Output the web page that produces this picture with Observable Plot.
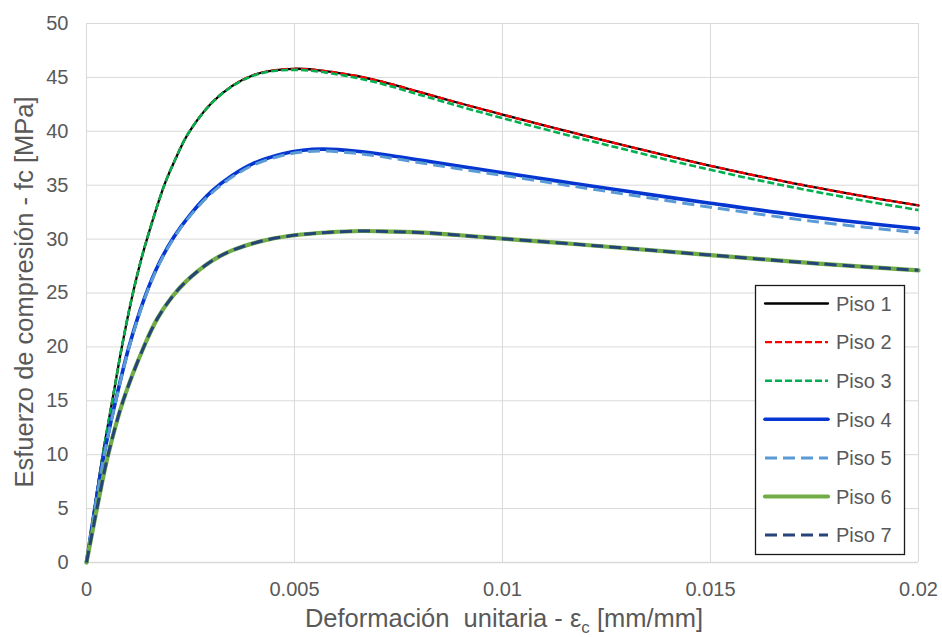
<!DOCTYPE html>
<html><head><meta charset="utf-8">
<script src="https://cdn.jsdelivr.net/npm/d3@7"></script>
<script src="https://cdn.jsdelivr.net/npm/@observablehq/plot@0.6"></script>
<style>
html,body{margin:0;padding:0;background:#fff;}
#chart{width:942px;height:637px;}
</style></head><body><div id="chart"></div>
<script>
// Strain (mm/mm) sample positions for each group of curves
const strainA = [0, 0.0002, 0.0004, 0.00062, 0.00085, 0.00107, 0.0013, 0.0015, 0.00187, 0.0021, 0.00243, 0.0030, 0.0035, 0.0040, 0.0045, 0.0050, 0.0055, 0.0060, 0.0065, 0.0070, 0.0075, 0.0080, 0.0090, 0.0100, 0.0110, 0.0120, 0.0130, 0.0140, 0.0150, 0.0160, 0.0170, 0.0180, 0.0190, 0.0200];
const piso1 = [0, 5.2, 10.2, 15, 20, 24.2, 27.9, 30.6, 35, 37.1, 39.7, 42.6, 44.2, 45.2, 45.65, 45.8, 45.7, 45.45, 45.13, 44.7, 44.2, 43.65, 42.58, 41.55, 40.55, 39.57, 38.62, 37.69, 36.8, 35.96, 35.18, 34.45, 33.76, 33.12];
const piso2 = [0, 5.2, 10.2, 15, 20, 24.2, 27.9, 30.6, 35, 37.1, 39.7, 42.6, 44.2, 45.2, 45.65, 45.8, 45.7, 45.45, 45.13, 44.7, 44.2, 43.65, 42.58, 41.55, 40.55, 39.57, 38.62, 37.69, 36.8, 35.96, 35.18, 34.45, 33.76, 33.12];
const piso3 = [0, 5.2, 10.2, 15, 20, 24.2, 27.9, 30.6, 35, 37.1, 39.7, 42.58, 44.17, 45.16, 45.6, 45.7, 45.58, 45.3, 44.95, 44.5, 43.97, 43.4, 42.28, 41.22, 40.21, 39.22, 38.26, 37.32, 36.43, 35.58, 34.79, 34.05, 33.35, 32.69];

const strainB = [0, 0.0002, 0.00042, 0.0007, 0.00102, 0.0014, 0.00175, 0.0021, 0.0025, 0.0030, 0.0035, 0.0040, 0.0047, 0.0052, 0.0057, 0.0065, 0.0073, 0.0081, 0.0089, 0.0100, 0.0113, 0.0125, 0.0150, 0.0176, 0.0200];
const piso4 = [0, 5, 10, 15, 20, 24.6, 27.8, 30.2, 32.3, 34.4, 35.9, 37.0, 37.9, 38.25, 38.35, 38.15, 37.75, 37.28, 36.8, 36.15, 35.4, 34.72, 33.33, 31.98, 30.97];
const piso5 = [0, 4.95, 9.9, 14.9, 19.9, 24.5, 27.7, 30.1, 32.2, 34.25, 35.75, 36.85, 37.75, 38.08, 38.17, 37.95, 37.53, 37.04, 36.55, 35.92, 35.14, 34.43, 32.96, 31.58, 30.59];

const strainC = [0, 0.00026, 0.00052, 0.00088, 0.0014, 0.0017, 0.00205, 0.0024, 0.0030, 0.0035, 0.0043, 0.0051, 0.0058, 0.0066, 0.0073, 0.0081, 0.0089, 0.0100, 0.0113, 0.0126, 0.0150, 0.0176, 0.0200];
const piso6 = [0, 5.2, 10, 15, 20.2, 22.6, 24.6, 26.1, 27.95, 28.95, 29.9, 30.4, 30.62, 30.75, 30.7, 30.6, 30.38, 30.04, 29.67, 29.27, 28.52, 27.72, 27.1];
const piso7 = [0, 5.2, 10, 15, 20.2, 22.6, 24.6, 26.1, 27.95, 28.95, 29.9, 30.4, 30.62, 30.75, 30.7, 30.6, 30.38, 30.04, 29.67, 29.27, 28.52, 27.72, 27.1];

const seriesNames = ["Piso 1", "Piso 2", "Piso 3", "Piso 4", "Piso 5", "Piso 6", "Piso 7"];
const xTicks = [0, 0.005, 0.01, 0.015, 0.02];
const xTickLabels = ["0", "0.005", "0.01", "0.015", "0.02"];
const yTicks = [0, 5, 10, 15, 20, 25, 30, 35, 40, 45, 50];
const xTitleMain = "Deformación  unitaria - ε";
const xTitleSub = "c";
const xTitleEnd = " [mm/mm]";
const yTitle = "Esfuerzo de compresión - fc [MPa]";

const styles = [
  {stroke: "#000000", width: 2.3, dash: null},
  {stroke: "#ff0000", width: 2.3, dash: "7,3"},
  {stroke: "#00b050", width: 2.6, dash: "7,3"},
  {stroke: "#0536d0", width: 3.6, dash: null},
  {stroke: "#5b9bd5", width: 3.0, dash: "12,6"},
  {stroke: "#70ad47", width: 4.2, dash: null},
  {stroke: "#264478", width: 3.0, dash: "12,6"}
];

function rows(strain, stress, name) { return strain.map((e, i) => ({e, f: stress[i], name})); }
const data = [
  rows(strainA, piso1, seriesNames[0]),
  rows(strainA, piso2, seriesNames[1]),
  rows(strainA, piso3, seriesNames[2]),
  rows(strainB, piso4, seriesNames[3]),
  rows(strainB, piso5, seriesNames[4]),
  rows(strainC, piso6, seriesNames[5]),
  rows(strainC, piso7, seriesNames[6])
];

const plot = Plot.plot({
  width: 942, height: 637,
  marginLeft: 86, marginRight: 24, marginTop: 23, marginBottom: 75,
  style: {fontFamily: "'Liberation Sans', Arial, sans-serif", fontSize: "20px", color: "#595959", background: "#ffffff"},
  x: {domain: [0, 0.02], ticks: xTicks, tickFormat: (d) => xTickLabels[xTicks.indexOf(d)], tickSize: 0, tickPadding: 19, label: null},
  y: {domain: [0, 50], ticks: yTicks, tickSize: 0, tickPadding: 18, label: null},
  marks: [
    Plot.gridY(yTicks, {stroke: "#d9d9d9", strokeOpacity: 1, strokeWidth: 1}),
    Plot.gridX(xTicks, {stroke: "#d9d9d9", strokeOpacity: 1, strokeWidth: 1}),
    Plot.ruleY([0], {stroke: "#d9d9d9", strokeWidth: 1.5}),
    ...data.map((d, i) => Plot.line(d, {
      x: "e", y: "f",
      stroke: styles[i].stroke,
      strokeWidth: styles[i].width,
      strokeDasharray: styles[i].dash,
      strokeLinecap: styles[i].dash ? "butt" : "round",
      curve: "catmull-rom"
    }))
  ]
});
document.getElementById("chart").appendChild(plot);

const svg = d3.select(plot);
// axis titles
svg.append("text")
  .attr("transform", "translate(24,292) rotate(-90)")
  .attr("text-anchor", "middle").attr("dy", "0.35em")
  .attr("fill", "#595959").attr("font-size", 25.5)
  .text(yTitle);
const xt = svg.append("text")
  .attr("x", 504).attr("y", 627)
  .attr("text-anchor", "middle")
  .attr("fill", "#595959").attr("font-size", 25.5)
  .attr("xml:space", "preserve").style("white-space", "pre");
xt.append("tspan").text(xTitleMain);
xt.append("tspan").attr("font-size", 17).attr("dy", 6).text(xTitleSub);
xt.append("tspan").attr("dy", -6).text(xTitleEnd);

// legend
const lg = svg.append("g").attr("text-anchor", "start");
lg.append("rect").attr("x", 755.5).attr("y", 285.5).attr("width", 149).attr("height", 269)
  .attr("fill", "#ffffff").attr("stroke", "#1a1a1a").attr("stroke-width", 1.3);
seriesNames.forEach((n, i) => {
  const cy = 303.5 + i * 38.6;
  lg.append("line").attr("x1", 765).attr("x2", 828).attr("y1", cy).attr("y2", cy)
    .attr("stroke", styles[i].stroke).attr("stroke-width", styles[i].width)
    .attr("stroke-dasharray", styles[i].dash || null)
    .attr("stroke-linecap", styles[i].dash ? "butt" : "round");
  lg.append("text").attr("x", 836).attr("y", cy).attr("dy", "0.36em")
    .attr("text-anchor", "start")
    .attr("fill", "#595959").attr("font-size", 20).text(n);
});
</script>
</body></html>
